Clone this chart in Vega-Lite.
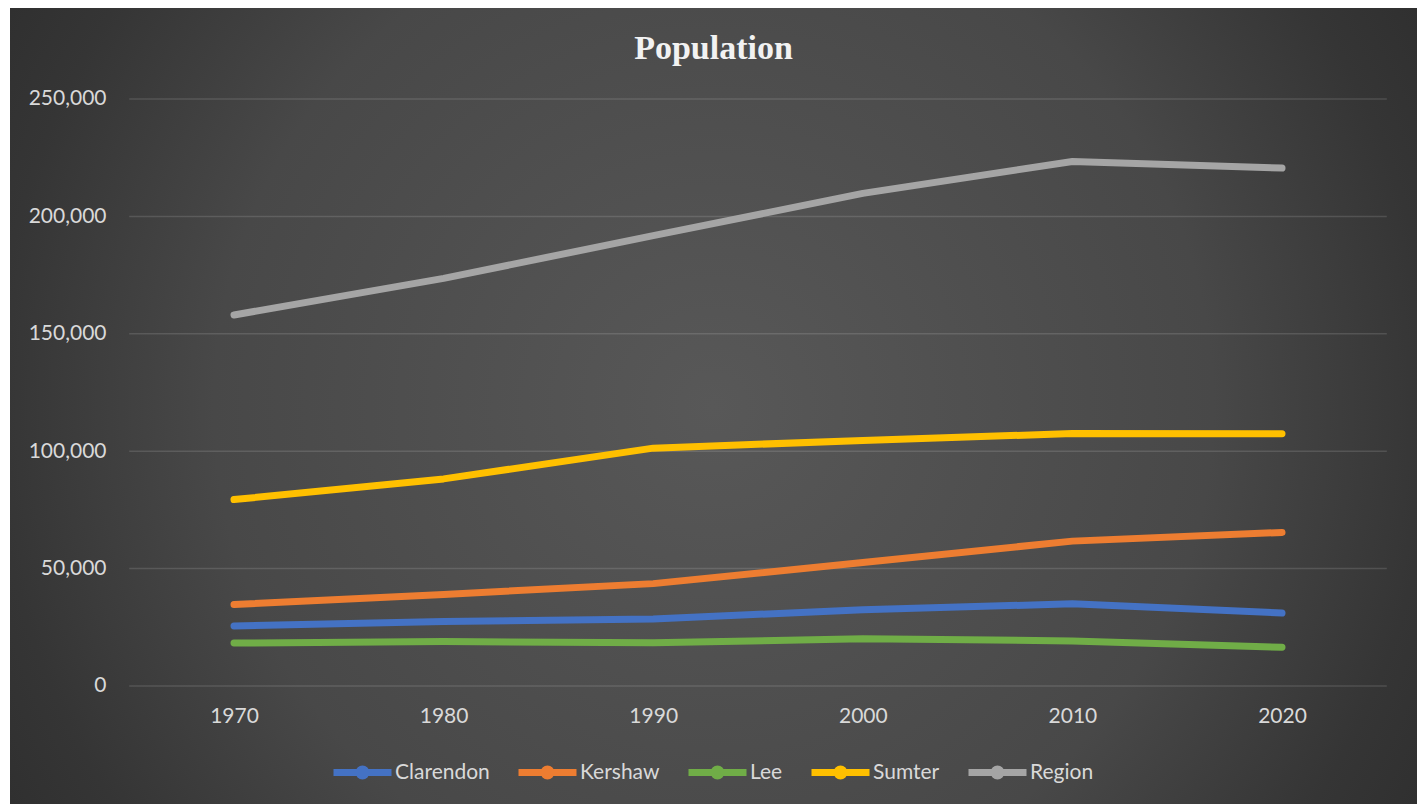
{
  "$schema": "https://vega.github.io/schema/vega-lite/v6.json",
  "autosize": "none",
  "padding": {"left": 10, "top": 8, "right": 7, "bottom": 0},
  "width": 1407,
  "height": 796,
  "background": "#ffffff",
  "title": {
    "text": "Population",
    "font": "Liberation Serif",
    "fontSize": 34,
    "fontWeight": "bold",
    "color": "#f2f2f2",
    "anchor": "middle",
    "frame": "group",
    "baseline": "alphabetic",
    "offset": -85
  },
  "layer": [
    {
      "data": {
        "values": [
          {"tick": 0}, {"tick": 50000}, {"tick": 100000},
          {"tick": 150000}, {"tick": 200000}, {"tick": 250000}
        ]
      },
      "mark": {"type": "rule", "color": "#ffffff", "opacity": 0.13, "strokeWidth": 1.5},
      "encoding": {
        "y": {"field": "tick", "type": "quantitative"},
        "x": {"datum": 1965},
        "x2": {"datum": 2025}
      }
    },
    {
      "data": {
        "values": [
          {"year": 1970, "county": "Clarendon", "population": 25600},
          {"year": 1980, "county": "Clarendon", "population": 27500},
          {"year": 1990, "county": "Clarendon", "population": 28500},
          {"year": 2000, "county": "Clarendon", "population": 32500},
          {"year": 2010, "county": "Clarendon", "population": 35000},
          {"year": 2020, "county": "Clarendon", "population": 31100},
          {"year": 1970, "county": "Kershaw", "population": 34700},
          {"year": 1980, "county": "Kershaw", "population": 39000},
          {"year": 1990, "county": "Kershaw", "population": 43600},
          {"year": 2000, "county": "Kershaw", "population": 52600},
          {"year": 2010, "county": "Kershaw", "population": 61700},
          {"year": 2020, "county": "Kershaw", "population": 65400},
          {"year": 1970, "county": "Lee", "population": 18300},
          {"year": 1980, "county": "Lee", "population": 18900},
          {"year": 1990, "county": "Lee", "population": 18400},
          {"year": 2000, "county": "Lee", "population": 20100},
          {"year": 2010, "county": "Lee", "population": 19200},
          {"year": 2020, "county": "Lee", "population": 16500},
          {"year": 1970, "county": "Sumter", "population": 79400},
          {"year": 1980, "county": "Sumter", "population": 88200},
          {"year": 1990, "county": "Sumter", "population": 101300},
          {"year": 2000, "county": "Sumter", "population": 104600},
          {"year": 2010, "county": "Sumter", "population": 107500},
          {"year": 2020, "county": "Sumter", "population": 107400},
          {"year": 1970, "county": "Region", "population": 158000},
          {"year": 1980, "county": "Region", "population": 173600},
          {"year": 1990, "county": "Region", "population": 191800},
          {"year": 2000, "county": "Region", "population": 209800},
          {"year": 2010, "county": "Region", "population": 223400},
          {"year": 2020, "county": "Region", "population": 220600}
        ]
      },
      "mark": {"type": "line", "strokeWidth": 7, "strokeCap": "round", "strokeJoin": "round"},
      "encoding": {
        "x": {"field": "year", "type": "quantitative"},
        "y": {"field": "population", "type": "quantitative"},
        "color": {
          "field": "county",
          "type": "nominal",
          "sort": ["Clarendon", "Kershaw", "Lee", "Sumter", "Region"],
          "scale": {
            "domain": ["Clarendon", "Kershaw", "Lee", "Sumter", "Region"],
            "range": ["#4472c4", "#ed7d31", "#70ad47", "#ffc000", "#a5a5a5"]
          },
          "legend": {
            "title": null,
            "orient": "none",
            "direction": "horizontal",
            "legendX": 320,
            "legendY": 732,
            "padding": 0,
            "symbolType": "M-1,0H1M0,-0.12A0.12,0.12 0 1 1 0,0.12A0.12,0.12 0 1 1 0,-0.12",
            "symbolSize": 3364,
            "symbolStrokeWidth": 7,
            "symbolFillColor": "transparent",
            "labelFont": "Lato",
            "labelFontSize": 21,
            "labelColor": "#d9d9d9",
            "labelOffset": 0,
            "columnPadding": 14
          }
        }
      }
    }
  ],
  "encoding": {
    "x": {
      "type": "quantitative",
      "scale": {"domain": [1959.313, 2026.44], "nice": false, "zero": false},
      "axis": {
        "title": null,
        "orient": "bottom",
        "values": [1970, 1980, 1990, 2000, 2010, 2020],
        "format": "d",
        "grid": false,
        "domain": false,
        "ticks": false,
        "tickSize": 0,
        "labelPadding": 0,
        "labelFlush": false,
        "offset": -99
      }
    },
    "y": {
      "type": "quantitative",
      "scale": {"domain": [-50256, 288756], "nice": false, "zero": false},
      "axis": {
        "title": null,
        "orient": "left",
        "values": [0, 50000, 100000, 150000, 200000, 250000],
        "format": ",.0f",
        "grid": false,
        "domain": false,
        "ticks": false,
        "tickSize": 0,
        "labelPadding": 0,
        "offset": -96
      }
    }
  },
  "config": {
    "view": {
      "stroke": null,
      "fill": {
        "gradient": "radial",
        "x1": 0.5, "y1": 0.5, "r1": 0,
        "x2": 0.5, "y2": 0.5, "r2": 0.71,
        "stops": [
          {"offset": 0, "color": "#585858"},
          {"offset": 0.5, "color": "#484848"},
          {"offset": 0.72, "color": "#353535"},
          {"offset": 1, "color": "#252525"}
        ]
      }
    },
    "axis": {
      "labelFont": "Lato",
      "labelFontSize": 21,
      "labelColor": "#d9d9d9"
    }
  }
}
